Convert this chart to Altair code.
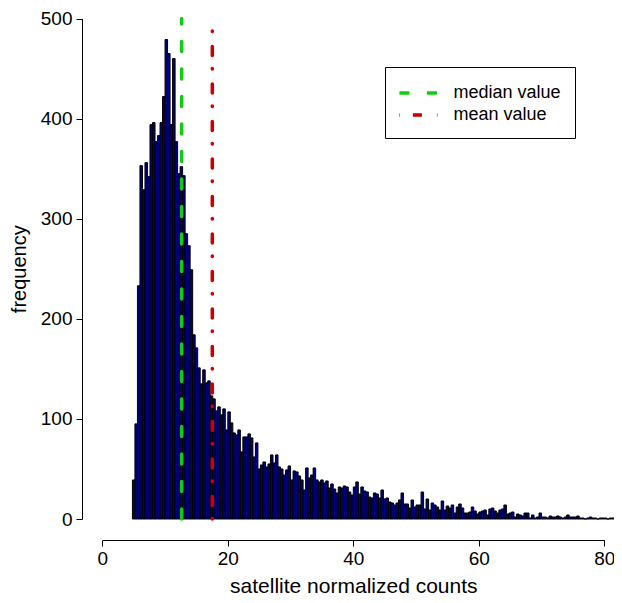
import altair as alt
import pandas as pd

# ---- data ----
bin_start = 4.8
bin_width = 0.4
counts = [
    39, 95, 233, 353, 329, 356, 342, 394, 396, 377,
    383, 396, 422, 479, 465, 394, 460, 377, 345, 352,
    343, 285, 273, 249, 184, 171, 151, 135, 149, 136,
    138, 123, 120, 108, 112, 104, 110, 89, 107, 96,
    86, 84, 89, 67, 82, 82, 85, 81, 62, 76,
    50, 54, 57, 52, 55, 64, 56, 64, 52, 50,
    44, 49, 53, 39, 48, 47, 43, 39, 29, 51,
    41, 44, 51, 39, 37, 39, 36, 38, 31, 35,
    30, 26, 32, 31, 33, 32, 27, 24, 32, 37,
    25, 32, 28, 27, 22, 21, 26, 25, 21, 29,
    20, 21, 17, 16, 14, 16, 19, 26, 15, 15,
    11, 19, 12, 14, 14, 27, 10, 20, 9, 16,
    14, 12, 9, 18, 9, 13, 11, 14, 6, 12,
    15, 11, 6, 6, 7, 12, 8, 5, 7, 8,
    9, 4, 10, 11, 8, 6, 9, 10, 14, 5,
    6, 7, 2, 5, 4, 3, 6, 6, 1, 4,
    1, 2, 6, 2, 2, 1, 3, 2, 2, 3,
    2, 1, 2, 4, 2, 2, 2, 3, 1, 1,
    0, 1, 2, 1, 1, 0, 1, 1, 1, 0,
    1, 1, 1, 1, 1, 1,
]
line_labels = ["median value", "mean value"]
line_x = [12.65, 17.53]
line_top = [500, 489]
x_ticks = [0, 20, 40, 60, 80]
y_ticks = [0, 100, 200, 300, 400, 500]

lo = [bin_start + i * bin_width for i in range(len(counts))]
bars_df = pd.DataFrame({"lo": lo, "hi": [v + bin_width for v in lo], "count": counts})
lines_df = pd.DataFrame({"label": line_labels, "x": line_x,
                         "y0": [0] * len(line_x), "y1": line_top})

FONT = "Liberation Sans"
xscale = alt.Scale(domain=[0, 80], range=[20.3, 522.3], nice=False, zero=False)
yscale = alt.Scale(domain=[0, 500], range=[509, 8.5], nice=False, zero=False)

xaxis = alt.Axis(values=x_ticks, title="satellite normalized counts", grid=False,
                 tickSize=6, labelPadding=3, labelFontSize=19, titleFontSize=21,
                 titleY=52, titleBaseline="alphabetic", titleFontWeight="normal",
                 labelFont=FONT, titleFont=FONT, domainColor="black", tickColor="black",
                 labelColor="black", titleColor="black", format="d", labelFlush=False)
yaxis = alt.Axis(values=y_ticks, title="frequency", grid=False,
                 tickSize=6, labelPadding=4, labelFontSize=19, titleFontSize=20,
                 titleX=-63, titleY=258.75, titleAngle=270, titleAlign="center",
                 titleBaseline="middle", titleFontWeight="normal",
                 labelFont=FONT, titleFont=FONT, domainColor="black", tickColor="black",
                 labelColor="black", titleColor="black", format="d")

bars = alt.Chart(bars_df).mark_bar(fill="navy", stroke="black", strokeWidth=1).encode(
    x=alt.X("lo:Q", scale=xscale, axis=xaxis),
    x2="hi:Q",
    y=alt.Y("count:Q", scale=yscale, axis=yaxis),
    y2=alt.datum(0),
)

leg = alt.Legend(title=None, orient="none", legendX=303, legendY=57,
                 strokeColor="black", fillColor="white", padding=14,
                 symbolType="M-2,0H2", symbolSize=400, symbolStrokeWidth=3.5,
                 symbolOffset=8.4, symbolFillColor="transparent",
                 labelFontSize=18, labelFont=FONT, labelOffset=22, rowPadding=1,
                 labelColor="black", cornerRadius=0)

rules = alt.Chart(lines_df).mark_rule(strokeWidth=3.5, strokeCap="round").encode(
    x=alt.X("x:Q", scale=xscale, axis=xaxis),
    y=alt.Y("y0:Q", scale=yscale, axis=yaxis),
    y2="y1:Q",
    color=alt.Color("label:N", scale=alt.Scale(domain=line_labels,
                                               range=["#11cc11", "#cc0000"]), legend=leg),
    strokeDash=alt.StrokeDash("label:N", scale=alt.Scale(domain=line_labels,
                                                         range=[[10, 17.5], [0.5, 13, 9, 15]]),
                              legend=leg),
)

chart = alt.layer(bars, rules).properties(
    width=532, height=530,
    padding={"left": 74, "top": 2, "right": 0, "bottom": 55},
    autosize=alt.AutoSizeParams(type="none"),
).configure_view(stroke=None)

chart.save("out.html", embed_options={"renderer": "svg", "actions": False})
